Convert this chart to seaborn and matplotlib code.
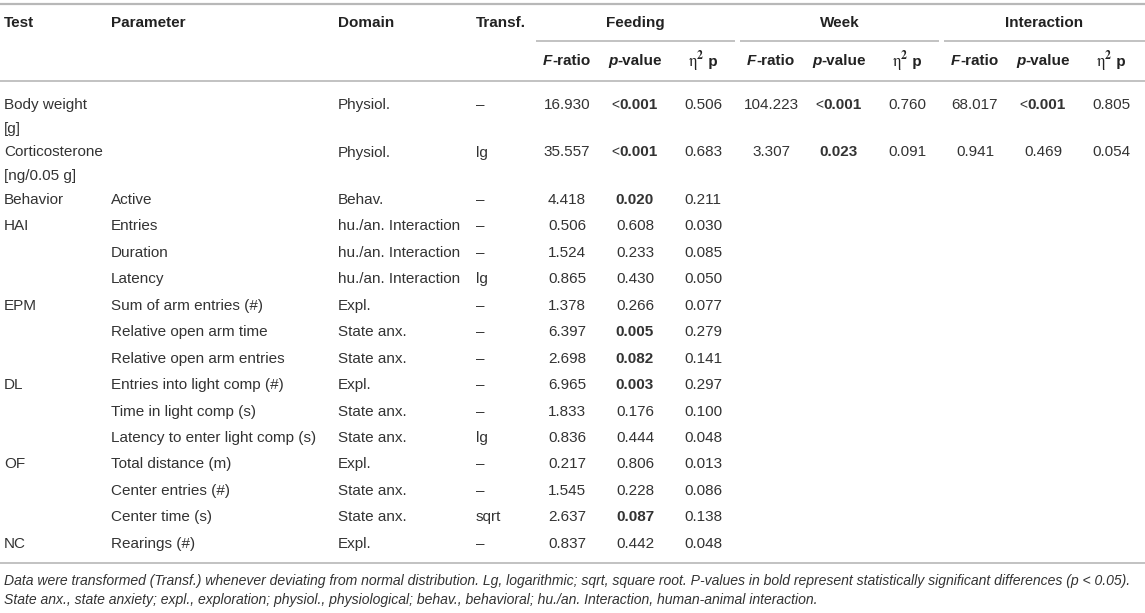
import matplotlib
matplotlib.use("Agg")
import matplotlib.pyplot as plt
import seaborn as sns

# ---------------- data ----------------
tests = ["Body weight\n[g]", "Corticosterone\n[ng/0.05 g]", "Behavior", "HAI", "", "",
         "EPM", "", "", "DL", "", "", "OF", "", "", "NC"]
params = ["", "", "Active", "Entries", "Duration", "Latency", "Sum of arm entries (#)",
          "Relative open arm time", "Relative open arm entries", "Entries into light comp (#)",
          "Time in light comp (s)", "Latency to enter light comp (s)", "Total distance (m)",
          "Center entries (#)", "Center time (s)", "Rearings (#)"]
domains = ["Physiol.", "Physiol.", "Behav.", "hu./an. Interaction", "hu./an. Interaction",
           "hu./an. Interaction", "Expl.", "State anx.", "State anx.", "Expl.", "State anx.",
           "State anx.", "Expl.", "State anx.", "State anx.", "Expl."]
transf = ["–", "lg", "–", "–", "–", "lg", "–", "–", "–", "–", "–", "lg", "–", "–", "sqrt", "–"]

feeding_F = [16.930, 35.557, 4.418, 0.506, 1.524, 0.865, 1.378, 6.397, 2.698, 6.965, 1.833,
             0.836, 0.217, 1.545, 2.637, 0.837]
feeding_p = ["<0.001", "<0.001", "0.020", "0.608", "0.233", "0.430", "0.266", "0.005", "0.082",
             "0.003", "0.176", "0.444", "0.806", "0.228", "0.087", "0.442"]
feeding_eta = [0.506, 0.683, 0.211, 0.030, 0.085, 0.050, 0.077, 0.279, 0.141, 0.297, 0.100,
               0.048, 0.013, 0.086, 0.138, 0.048]
week_F = [104.223, 3.307]
week_p = ["<0.001", "0.023"]
week_eta = [0.760, 0.091]
inter_F = [68.017, 0.941]
inter_p = ["<0.001", "0.469"]
inter_eta = [0.805, 0.054]

groups = ["Feeding", "Week", "Interaction"]
col_headers = ["Test", "Parameter", "Domain", "Transf."]
footnote_lines = [
    "Data were transformed (Transf.) whenever deviating from normal distribution. Lg, logarithmic; "
    "sqrt, square root. P-values in bold represent statistically significant differences (p < 0.05).",
    "State anx., state anxiety; expl., exploration; physiol., physiological; behav., behavioral; "
    "hu./an. Interaction, human-animal interaction.",
]

# ---------------- style ----------------
sns.set_theme(style="white")
plt.rcParams["font.family"] = ["Liberation Sans", "DejaVu Sans"]

W, H = 1145, 613
fig = plt.figure(figsize=(W / 100, H / 100), dpi=100)
ax = fig.add_axes([0, 0, 1, 1])
ax.set_xlim(0, W)
ax.set_ylim(H, 0)
ax.axis("off")
fig.canvas.draw()
renderer = fig.canvas.get_renderer()

TXT = "#333333"
HEAD = "#222222"
LINE = "#b8b8b8"
FS = 11


def make_text(x, y, s, color=TXT, **p):
    kw = dict(fontsize=p.get("fontsize", FS), fontweight=p.get("fontweight", "normal"),
              fontstyle=p.get("fontstyle", "normal"))
    if "math_fontfamily" in p:
        kw["math_fontfamily"] = p["math_fontfamily"]
    return ax.text(x, y, s, ha="left", va="center", color=color, **kw)


def width_of(s, **p):
    t = make_text(0, 0, s, **p)
    bb = t.get_window_extent(renderer)
    t.remove()
    return bb.width


def seg_text(x, y, segs, ha="center", color=TXT):
    widths = [width_of(s, **p) for s, p in segs]
    total = sum(widths)
    cx = x - total / 2 if ha == "center" else (x if ha == "left" else x - total)
    for (s, p), w in zip(segs, widths):
        make_text(cx, y, s, color=color, **p)
        cx += w


# ---------------- layout ----------------
left_x = [4, 111, 338, 476]
group_x0 = [536, 740, 944]
group_x1 = [735, 939, 1145]
sub_off = [31, 99, 167]
y_head1, y_under, y_head2, y_line = 23, 41, 61, 81
line_step = 23.75

row_lines = [max(len(t.split("\n")), 1) for t in tests]
row_y = []
y = 105
for n in row_lines:
    row_y.append(y)
    y += 47.5 if n == 2 else 26.45

# rules
ax.plot([0, W], [4, 4], color=LINE, lw=1.6, solid_capstyle="butt")
for a, b in zip(group_x0, group_x1):
    ax.plot([a, b], [y_under, y_under], color=LINE, lw=1.2, solid_capstyle="butt")
ax.plot([0, W], [y_line, y_line], color=LINE, lw=1.2, solid_capstyle="butt")
ax.plot([0, W], [563, 563], color=LINE, lw=1.2, solid_capstyle="butt")

# header
for x, h in zip(left_x, col_headers):
    ax.text(x, y_head1, h, ha="left", va="center", color=HEAD, fontsize=FS, fontweight="bold")
B = {"fontweight": "bold"}
BI = {"fontweight": "bold", "fontstyle": "italic"}
ETA = {"math_fontfamily": "stix", "fontsize": FS + 1}
for g, x0, x1 in zip(groups, group_x0, group_x1):
    ax.text((x0 + x1) / 2, y_head1, g, ha="center", va="center", color=HEAD, fontsize=FS,
            fontweight="bold")
    seg_text(x0 + sub_off[0], y_head2, [("F", BI), ("-ratio", B)], color=HEAD)
    seg_text(x0 + sub_off[1], y_head2, [("p", BI), ("-value", B)], color=HEAD)
    seg_text(x0 + sub_off[2], y_head2 + 1, [(r"$\mathrm{\eta}^{\mathbf{2}}$", ETA), (" p", B)],
             color=HEAD)


def draw_p(x, y, p):
    val = float(p.lstrip("<"))
    bold = val < 0.1
    if p.startswith("<"):
        seg_text(x, y, [("<", {"fontsize": FS - 1}), (p[1:], B if bold else {})])
    else:
        seg_text(x, y, [(p, B if bold else {})])


# body
for i in range(len(tests)):
    yy = row_y[i]
    for x, cell in zip(left_x, [tests[i], params[i], domains[i], transf[i]]):
        for k, ln in enumerate(cell.split("\n")):
            if ln:
                ax.text(x, yy + k * line_step, ln, ha="left", va="center", color=TXT, fontsize=FS)
    x0 = group_x0[0]
    ax.text(x0 + sub_off[0], yy, f"{feeding_F[i]:.3f}", ha="center", va="center", color=TXT, fontsize=FS)
    draw_p(x0 + sub_off[1], yy, feeding_p[i])
    ax.text(x0 + sub_off[2], yy, f"{feeding_eta[i]:.3f}", ha="center", va="center", color=TXT, fontsize=FS)

for gi, (Fv, pv, ev) in enumerate([(week_F, week_p, week_eta), (inter_F, inter_p, inter_eta)], start=1):
    x0 = group_x0[gi]
    for i in range(len(Fv)):
        yy = row_y[i]
        ax.text(x0 + sub_off[0], yy, f"{Fv[i]:.3f}", ha="center", va="center", color=TXT, fontsize=FS)
        draw_p(x0 + sub_off[1], yy, pv[i])
        ax.text(x0 + sub_off[2], yy, f"{ev[i]:.3f}", ha="center", va="center", color=TXT, fontsize=FS)

# footnote, fitted to the table width
w0 = width_of(footnote_lines[0], fontsize=9, fontstyle="italic")
fs_note = 9 * 1138 / w0
for k, ln in enumerate(footnote_lines):
    ax.text(4, 581 + k * 19, ln, ha="left", va="center", color=TXT, fontsize=fs_note,
            fontstyle="italic")

fig.savefig("out.png", dpi=100)
